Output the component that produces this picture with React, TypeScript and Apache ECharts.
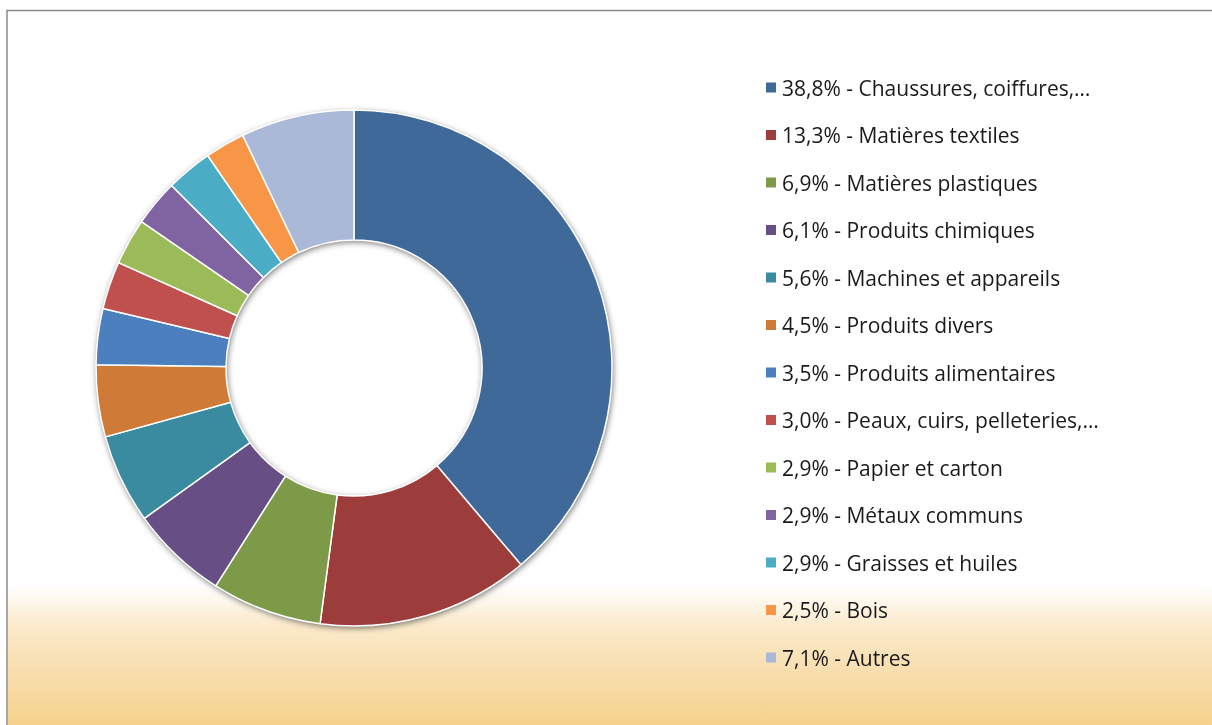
import React, { useEffect, useRef } from "react";
import * as echarts from "echarts";

const categories = [
  "Chaussures, coiffures,…",
  "Matières textiles",
  "Matières plastiques",
  "Produits chimiques",
  "Machines et appareils",
  "Produits divers",
  "Produits alimentaires",
  "Peaux, cuirs, pelleteries,…",
  "Papier et carton",
  "Métaux communs",
  "Graisses et huiles",
  "Bois",
  "Autres",
];
const values = [38.8, 13.3, 6.9, 6.1, 5.6, 4.5, 3.5, 3.0, 2.9, 2.9, 2.9, 2.5, 7.1];
const colors = [
  "#3F6998", "#9C3D3B", "#7D9A48", "#674F86", "#3A8BA0", "#CF7A36", "#4B7FBE",
  "#C0504D", "#9BBB59", "#8064A2", "#4BACC6", "#F79646", "#AAB9D7",
];

const fmt = (v: number) => v.toFixed(1).replace(".", ",") + "%";

export default function App() {
  const ref = useRef<HTMLDivElement>(null);
  useEffect(() => {
    if (!ref.current) return;
    const chart = echarts.init(ref.current, undefined, { renderer: "svg" });
    const valueByName: Record<string, number> = {};
    categories.forEach((c, i) => (valueByName[c] = values[i]));
    chart.setOption({
      animation: false,
      graphic: [
        { type: "rect", z: -10, shape: { x: 0, y: 0, width: 1212, height: 725 }, style: { fill: "#ffffff" } },
        {
          type: "rect",
          z: -9,
          shape: { x: 8, y: 586, width: 1204, height: 139 },
          style: {
            fill: new echarts.graphic.LinearGradient(0, 0, 0, 1, [
              { offset: 0, color: "rgba(255,255,255,1)" },
              { offset: 0.3, color: "#FBE9CA" },
              { offset: 1, color: "#F5D18C" },
            ]),
          },
        },
        {
          type: "rect",
          z: -8,
          shape: { x: 7, y: 10.5, width: 1300, height: 800 },
          style: { fill: "none", stroke: "#8a8a8a", lineWidth: 1.5 },
        },
      ],
      legend: {
        orient: "vertical",
        left: 761,
        top: 72,
        icon: "rect",
        itemWidth: 10,
        itemHeight: 10,
        itemGap: 26.5,
        itemStyle: { borderWidth: 0 },
        data: categories,
        formatter: (name: string) => `${fmt(valueByName[name])} - ${name}`,
        textStyle: { fontFamily: "Open Sans", fontSize: 21, lineHeight: 20, color: "#1a1a1a", padding: [0, 0, 0, 1] },
        selectedMode: false,
      },
      series: [
        {
          type: "pie",
          silent: true,
          center: [354, 368],
          radius: [128, 258],
          label: { show: false },
          labelLine: { show: false },
          z: 1,
          data: [
            {
              value: 1,
              name: "shadow",
              itemStyle: {
                color: "#ffffff",
                shadowBlur: 6,
                shadowColor: "rgba(0,0,0,0.55)",
                shadowOffsetX: 1,
                shadowOffsetY: 2,
              },
            },
          ],
        },
        {
          type: "pie",
          center: [354, 368],
          radius: [128, 258],
          startAngle: 90,
          clockwise: true,
          z: 2,
          label: { show: false },
          labelLine: { show: false },
          emphasis: { disabled: true },
          itemStyle: { borderColor: "#ffffff", borderWidth: 1.5 },
          data: categories.map((c, i) => ({ name: c, value: values[i], itemStyle: { color: colors[i] } })),
        },
      ],
    });
    return () => chart.dispose();
  }, []);
  return <div ref={ref} style={{ position: "fixed", left: 0, top: 0, width: 1212, height: 725 }} />;
}
